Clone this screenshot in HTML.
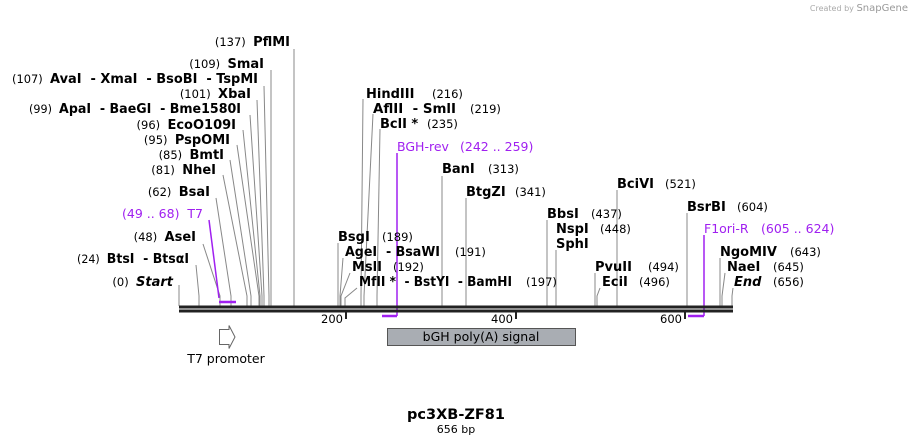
<!DOCTYPE html>
<html><head><meta charset="utf-8"><style>
html,body{margin:0;padding:0;background:#fff;}
svg{display:block;font-family:"DejaVu Sans","Liberation Sans",sans-serif;}
text{white-space:pre;}
.n{font-weight:bold;font-size:13px;fill:#000;}
.p{font-size:11.5px;fill:#000;}
.i{font-weight:bold;font-style:italic;font-size:13px;}
.u{fill:#a020f0;font-size:12.5px;}
line,polyline{stroke:#888;stroke-width:1;fill:none;}
</style></head><body>
<svg width="912" height="445" viewBox="0 0 912 445" xml:space="preserve">
<text x="908" y="11" text-anchor="end" style="font-size:8px;fill:#aaa">Created by <tspan style="font-size:10px;fill:#999">SnapGene</tspan></text>

<line x1="294" y1="49" x2="294" y2="306"/>
<polyline points="271,70 271,306"/>
<polyline points="264,86 269,296 269,306"/>
<polyline points="257,100 264,296 264,306"/>
<polyline points="250,115 262,296 262,306"/>
<polyline points="243,130 260,296 260,306"/>
<polyline points="237,145 259,296 259,306"/>
<polyline points="230,160 251,296 251,306"/>
<polyline points="223,175 247,296 247,306"/>
<polyline points="216,198 231,296 231,306"/>
<polyline points="203,244 220,296 220,306"/>
<polyline points="196,265 199,296 199,306"/>
<line x1="179" y1="285" x2="179" y2="306"/>
<polyline points="209,220 219,298" style="stroke:#a020f0;stroke-width:1.5"/>
<line x1="219" y1="302" x2="236" y2="302" style="stroke:#a020f0;stroke-width:2.5"/>

<text x="290" y="46" text-anchor="end"><tspan class="p">(137)  </tspan><tspan class="n">PflMI</tspan></text>
<text x="264" y="68" text-anchor="end"><tspan class="p">(109)  </tspan><tspan class="n">SmaI</tspan></text>
<text x="12" y="83" textLength="246" lengthAdjust="spacingAndGlyphs"><tspan class="p">(107)  </tspan><tspan class="n">AvaI  - XmaI  - BsoBI  - TspMI</tspan></text>
<text x="251" y="98" text-anchor="end"><tspan class="p">(101)  </tspan><tspan class="n">XbaI</tspan></text>
<text x="29" y="113" textLength="212" lengthAdjust="spacingAndGlyphs"><tspan class="p">(99)  </tspan><tspan class="n">ApaI  - BaeGI  - Bme1580I</tspan></text>
<text x="236" y="129" text-anchor="end"><tspan class="p">(96)  </tspan><tspan class="n">EcoO109I</tspan></text>
<text x="230" y="144" text-anchor="end"><tspan class="p">(95)  </tspan><tspan class="n">PspOMI</tspan></text>
<text x="224" y="159" text-anchor="end"><tspan class="p">(85)  </tspan><tspan class="n">BmtI</tspan></text>
<text x="216" y="174" text-anchor="end"><tspan class="p">(81)  </tspan><tspan class="n">NheI</tspan></text>
<text x="210" y="196" text-anchor="end"><tspan class="p">(62)  </tspan><tspan class="n">BsaI</tspan></text>
<text x="203" y="218" text-anchor="end" class="u">(49 .. 68)  T7</text>
<text x="196" y="241" text-anchor="end"><tspan class="p">(48)  </tspan><tspan class="n">AseI</tspan></text>
<text x="77" y="263" textLength="112" lengthAdjust="spacingAndGlyphs"><tspan class="p">(24)  </tspan><tspan class="n">BtsI  - BtsαI</tspan></text>
<text x="173" y="286" text-anchor="end"><tspan class="p">(0)  </tspan><tspan class="i">Start</tspan></text>

<polyline points="363,99 361,296 361,306"/>
<polyline points="373,114 364,296 364,306"/>
<polyline points="380,129 377,296 377,306"/>
<line x1="442" y1="176" x2="442" y2="306"/>
<line x1="466" y1="198" x2="466" y2="306"/>
<line x1="547" y1="220" x2="547" y2="306"/>
<line x1="556" y1="250" x2="556" y2="306"/>
<line x1="338" y1="243" x2="338" y2="306"/>
<polyline points="343,258 340,296 340,306"/>
<polyline points="350,273 341,296 341,306"/>
<polyline points="357,288 345,298 345,306"/>
<line x1="595" y1="273" x2="595" y2="306"/>
<polyline points="600,288 597,296 597,306"/>
<line x1="617" y1="190" x2="617" y2="306"/>
<line x1="687" y1="213" x2="687" y2="306"/>
<line x1="720" y1="258" x2="720" y2="306"/>
<polyline points="725,273 722,296 722,306"/>
<polyline points="733,288 732,296 732,306"/>
<line x1="397" y1="153" x2="397" y2="316" style="stroke:#a020f0;stroke-width:1.5"/>
<line x1="382" y1="316" x2="397" y2="316" style="stroke:#a020f0;stroke-width:2.5"/>
<line x1="704" y1="235" x2="704" y2="316" style="stroke:#a020f0;stroke-width:1.5"/>
<line x1="688" y1="316" x2="704" y2="316" style="stroke:#a020f0;stroke-width:2.5"/>

<text x="366" y="98" class="n">HindIII</text><text x="432" y="98" class="p">(216)</text>
<text x="373" y="113" class="n" textLength="83" lengthAdjust="spacingAndGlyphs">AflII  - SmlI</text><text x="470" y="113" class="p">(219)</text>
<text x="380" y="128" class="n">BclI *</text><text x="427" y="128" class="p">(235)</text>
<text x="397" y="151" class="u">BGH-rev</text><text x="460" y="151" class="u">(242 .. 259)</text>
<text x="442" y="173" class="n">BanI</text><text x="488" y="173" class="p">(313)</text>
<text x="466" y="196" class="n">BtgZI</text><text x="515" y="196" class="p">(341)</text>
<text x="547" y="218" class="n">BbsI</text><text x="591" y="218" class="p">(437)</text>
<text x="556" y="233" class="n">NspI</text><text x="600" y="233" class="p">(448)</text>
<text x="556" y="248" class="n">SphI</text>
<text x="338" y="241" class="n">BsgI</text><text x="382" y="241" class="p">(189)</text>
<text x="345" y="256" class="n" textLength="95" lengthAdjust="spacingAndGlyphs">AgeI  - BsaWI</text><text x="455" y="256" class="p">(191)</text>
<text x="352" y="271" class="n">MslI</text><text x="393" y="271" class="p">(192)</text>
<text x="359" y="286" class="n" textLength="153" lengthAdjust="spacingAndGlyphs">MfII *  - BstYI  - BamHI</text><text x="526" y="286" class="p">(197)</text>
<text x="595" y="271" class="n">PvuII</text><text x="648" y="271" class="p">(494)</text>
<text x="602" y="286" class="n">EciI</text><text x="639" y="286" class="p">(496)</text>
<text x="617" y="188" class="n">BciVI</text><text x="665" y="188" class="p">(521)</text>
<text x="687" y="211" class="n">BsrBI</text><text x="737" y="211" class="p">(604)</text>
<text x="704" y="233" class="u">F1ori-R</text><text x="761" y="233" class="u">(605 .. 624)</text>
<text x="720" y="256" class="n">NgoMIV</text><text x="790" y="256" class="p">(643)</text>
<text x="727" y="271" class="n">NaeI</text><text x="773" y="271" class="p">(645)</text>
<text x="734" y="286" class="i">End</text><text x="773" y="286" class="p">(656)</text>

<rect x="179" y="305.5" width="554" height="3" fill="#222"/>
<rect x="179" y="309.5" width="554" height="3" fill="#222"/>
<rect x="345" y="312" width="2" height="7" fill="#222"/>
<rect x="515" y="312" width="2" height="7" fill="#222"/>
<rect x="684" y="312" width="2" height="7" fill="#222"/>
<text x="343" y="323" text-anchor="end" class="p">200</text>
<text x="513" y="323" text-anchor="end" class="p">400</text>
<text x="682" y="323" text-anchor="end" class="p">600</text>

<rect x="387.5" y="328.5" width="188" height="17" fill="#a9adb3" stroke="#555"/>
<text x="481" y="341" text-anchor="middle" style="font-size:12.5px">bGH poly(A) signal</text>
<polygon points="219.5,329.5 229,329.5 229,325.5 235,337 229,348.5 229,344.5 219.5,344.5" fill="#fff" stroke="#666"/>
<text x="226" y="363" text-anchor="middle" style="font-size:12.5px">T7 promoter</text>

<text x="456" y="419" text-anchor="middle" style="font-weight:bold;font-size:14.5px">pc3XB-ZF81</text>
<text x="456" y="433" text-anchor="middle" style="font-size:11px">656 bp</text>
</svg>
</body></html>
